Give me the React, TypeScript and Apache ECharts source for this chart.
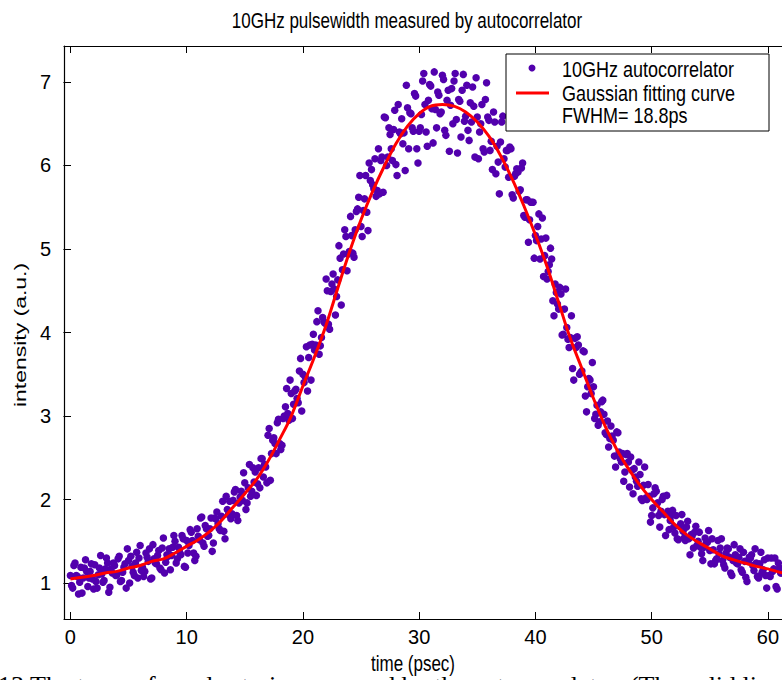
import React, { useEffect, useRef } from "react";
import * as echarts from "echarts";

const TITLE = "10GHz pulsewidth measured by autocorrelator";
const X_NAME = "time (psec)";
const Y_NAME = "intensity (a.u.)";
const LEGEND_LABELS = ["10GHz autocorrelator", "Gaussian fitting curve", "FWHM= 18.8ps"];
const CAPTION = "13 The trace of a pulse train measured by the autocorrelator. (The solid line is the Gaussian fit)";
const X_TICKS = [0, 10, 20, 30, 40, 50, 60];
const Y_TICKS = [1, 2, 3, 4, 5, 6, 7];

// measured samples (two interleaved sweeps), uniformly spaced in time (psec)
const SWEEP_A_START = 0;
const SWEEP_B_START = 0.1;
const SAMPLE_STEP = 0.2;
const SWEEP_A = [
  1.09, 0.94, 1.24, 1.08, 1.01, 0.88, 1.18, 1.14, 1.06, 1.23,
  0.93, 1.02, 1.1, 1.33, 1.01, 1.17, 1.24, 0.95, 1.12, 1.21,
  1.1, 1.32, 1.03, 1.19, 0.94, 1.27, 1.32, 1.13, 1.24, 1.06,
  1.45, 1.19, 1.14, 1.31, 1.41, 1.06, 1.29, 1.23, 1.39, 1.16,
  1.54, 1.25, 1.32, 1.16, 1.43, 1.5, 1.29, 1.37, 1.57, 1.2,
  1.51, 1.45, 1.61, 1.36, 1.32, 1.56, 1.78, 1.48, 1.69, 1.56,
  1.65, 1.38, 1.78, 1.85, 1.65, 1.8, 1.62, 2.04, 1.82, 1.77,
  1.99, 2.12, 1.75, 2.03, 1.99, 2.2, 1.96, 2.42, 2.1, 2.21,
  2.05, 2.38, 2.49, 2.27, 2.39, 2.77, 2.23, 2.71, 2.67, 2.92,
  2.67, 2.65, 3.0, 3.33, 2.95, 3.27, 3.14, 3.32, 3.16, 3.69,
  3.5, 3.47, 3.3, 3.85, 3.86, 3.79, 4.13, 3.74, 3.94, 4.13,
  4.64, 4.1, 4.49, 4.7, 4.21, 4.63, 4.89, 4.75, 5.23, 4.74,
  4.97, 5.16, 4.9, 5.45, 5.62, 5.27, 5.46, 5.88, 5.22, 5.82,
  5.77, 6.08, 5.7, 5.66, 6.1, 6.58, 6.0, 6.45, 6.2, 6.43,
  6.01, 6.73, 6.38, 6.26, 5.94, 6.69, 6.63, 6.45, 6.86, 6.2,
  6.41, 6.61, 7.1, 6.4, 6.78, 6.95, 6.27, 6.67, 6.88, 6.62,
  7.08, 6.42, 6.78, 6.17, 6.92, 7.01, 6.55, 6.79, 6.34, 7.09,
  6.59, 6.42, 6.75, 6.94, 6.1, 6.58, 6.4, 6.73, 6.16, 6.99,
  6.54, 6.29, 6.64, 5.9, 6.04, 6.28, 6.59, 5.98, 6.18, 6.22,
  5.65, 5.87, 5.96, 5.69, 5.97, 5.4, 5.59, 5.08, 5.56, 5.56,
  5.16, 5.27, 4.88, 5.37, 4.92, 4.64, 4.81, 4.88, 4.2, 4.48,
  4.28, 4.46, 3.98, 4.52, 3.92, 3.94, 3.57, 3.93, 3.95, 3.5,
  3.54, 3.77, 3.05, 3.45, 3.27, 3.35, 3.02, 2.89, 3.05, 3.19,
  2.8, 2.94, 2.73, 2.76, 2.52, 2.81, 2.57, 2.45, 2.22, 2.54,
  2.45, 2.51, 2.07, 2.27, 2.16, 2.3, 1.99, 2.39, 2.0, 2.04,
  1.81, 2.07, 2.1, 1.81, 1.86, 2.04, 1.57, 1.86, 1.75, 1.87,
  1.6, 1.53, 1.68, 1.82, 1.54, 1.67, 1.53, 1.58, 1.42, 1.68,
  1.5, 1.43, 1.27, 1.54, 1.49, 1.39, 1.53, 1.23, 1.29, 1.35,
  1.53, 1.22, 1.36, 1.41, 1.12, 1.27, 1.34, 1.23, 1.41, 1.13,
  1.26, 1.02, 1.31, 1.34, 1.15, 1.24, 1.06, 1.37, 1.16, 1.09,
  1.3, 1.08, 1.14, 1.3, 0.93, 1.18, 1.12, 1.24, 1.02, 0.96,
  1.14,
];
const SWEEP_B = [
  0.97, 1.21, 1.09, 0.87, 1.19, 1.06, 1.28, 0.96, 1.14, 1.05,
  1.22, 0.94, 1.18, 1.11, 1.03, 1.3, 0.89, 1.17, 1.24, 1.09,
  1.29, 1.02, 1.13, 1.23, 1.41, 1.0, 1.2, 1.09, 1.37, 1.3,
  1.15, 1.08, 1.36, 1.26, 1.05, 1.46, 1.24, 1.33, 1.18, 1.42,
  1.12, 1.34, 1.41, 1.33, 1.57, 1.24, 1.43, 1.34, 1.53, 1.19,
  1.36, 1.64, 1.51, 1.27, 1.65, 1.52, 1.79, 1.44, 1.65, 1.57,
  1.78, 1.48, 1.77, 1.71, 1.63, 1.98, 1.53, 1.88, 1.98, 1.83,
  2.09, 1.81, 1.96, 2.1, 2.32, 1.88, 2.14, 2.04, 2.38, 2.33,
  2.19, 2.14, 2.49, 2.42, 2.2, 2.85, 2.55, 2.74, 2.55, 2.96,
  2.6, 2.97, 3.11, 3.03, 3.43, 2.97, 3.3, 3.21, 3.54, 3.06,
  3.4, 3.83, 3.7, 3.43, 3.98, 3.85, 4.26, 3.84, 4.18, 4.11,
  4.5, 4.04, 4.58, 4.52, 4.43, 5.04, 4.33, 4.94, 5.15, 4.94,
  5.39, 4.95, 5.23, 5.48, 5.88, 5.15, 5.6, 5.44, 6.03, 5.95,
  5.72, 5.63, 6.2, 6.06, 5.68, 6.57, 6.1, 6.37, 6.06, 6.66,
  5.88, 6.4, 6.56, 6.39, 6.96, 6.2, 6.62, 6.41, 6.83, 6.03,
  6.45, 7.01, 6.73, 6.23, 6.97, 6.68, 7.12, 6.45, 6.84, 6.64,
  7.03, 6.36, 6.9, 6.72, 6.5, 7.1, 6.15, 6.77, 6.9, 6.53,
  6.96, 6.3, 6.52, 6.71, 7.05, 6.08, 6.5, 6.2, 6.79, 6.58,
  6.18, 5.95, 6.52, 6.23, 5.66, 6.52, 6.08, 6.18, 5.86, 6.2,
  5.61, 5.9, 5.92, 5.71, 6.03, 5.38, 5.59, 5.35, 5.56, 4.89,
  5.1, 5.42, 5.12, 4.67, 5.13, 4.73, 5.01, 4.38, 4.58, 4.34,
  4.54, 3.97, 4.28, 4.06, 3.82, 4.2, 3.43, 3.82, 3.85, 3.52,
  3.78, 3.24, 3.35, 3.43, 3.64, 2.97, 3.13, 2.93, 3.17, 3.02,
  2.78, 2.63, 2.88, 2.71, 2.39, 2.8, 2.49, 2.55, 2.33, 2.55,
  2.15, 2.35, 2.37, 2.22, 2.45, 2.01, 2.17, 2.02, 2.18, 1.73,
  1.9, 2.14, 1.96, 1.67, 2.0, 1.82, 2.05, 1.64, 1.81, 1.67,
  1.81, 1.52, 1.71, 1.62, 1.51, 1.74, 1.34, 1.57, 1.61, 1.45,
  1.61, 1.35, 1.43, 1.49, 1.63, 1.23, 1.4, 1.27, 1.51, 1.42,
  1.27, 1.18, 1.42, 1.31, 1.09, 1.46, 1.24, 1.31, 1.16, 1.37,
  1.07, 1.26, 1.3, 1.21, 1.41, 1.08, 1.23, 1.13, 1.28, 0.94,
  1.09, 1.3, 1.17, 0.96, 1.24, 1.12, 1.32, 1.01, 1.17, 1.08,
];

// Gaussian fitting curve
const FIT_TIME = [
  0, 1, 2, 3, 4, 5, 6, 7, 8, 9, 10, 11, 12, 13, 14, 15, 16, 17, 18, 19, 20,
  21, 22, 23, 24, 25, 26, 27, 28, 29, 30, 31, 32, 33, 34, 35, 36, 37, 38, 39, 40,
  41, 42, 43, 44, 45, 46, 47, 48, 49, 50, 51, 52, 53, 54, 55, 56, 57, 58, 59, 60,
  61, 62,
];
const FIT_VALUES = [
  1.05, 1.07, 1.09, 1.12, 1.14, 1.18, 1.21, 1.26, 1.29, 1.36, 1.44,
  1.52, 1.62, 1.75, 1.91, 2.07, 2.24, 2.46, 2.72, 3.0, 3.36,
  3.71, 4.09, 4.53, 4.96, 5.35, 5.69, 5.99, 6.26, 6.47, 6.62,
  6.71, 6.73, 6.71, 6.64, 6.52, 6.35, 6.12, 5.84, 5.52, 5.17,
  4.79, 4.36, 3.93, 3.57, 3.21, 2.88, 2.6, 2.37, 2.17, 2.0,
  1.85, 1.7, 1.58, 1.49, 1.41, 1.33, 1.28, 1.24, 1.2, 1.17,
  1.13, 1.11,
];

const FONT = '"Liberation Sans", Arial, Helvetica, sans-serif';
const DOT = "#5200ad";

export default function App() {
  const ref = useRef<HTMLDivElement>(null);
  useEffect(() => {
    if (!ref.current) return;
    const chart = echarts.init(ref.current, undefined, { renderer: "svg" });
    const scatterData = [
      ...SWEEP_A.map((v, i) => [SWEEP_A_START + i * SAMPLE_STEP, v]),
      ...SWEEP_B.map((v, i) => [SWEEP_B_START + i * SAMPLE_STEP, v]),
    ];
    const fitData = FIT_TIME.map((t, i) => [t, FIT_VALUES[i]]);
    const xMin = -0.55;
    const xMax = 61.2;
    const yMin = 0.57;
    const yMax = 7.43;
    const tickStyle = { show: true, inside: true, length: 7, lineStyle: { color: "#000", width: 1 } };
    const lineStyle = { show: true, onZero: false, lineStyle: { color: "#000", width: 1.2 } };
    chart.setOption({
      animation: false,
      backgroundColor: "#fff",
      grid: { left: 64, top: 46, right: 0, bottom: 61, containLabel: false },
      xAxis: [
        {
          type: "value", position: "bottom", min: xMin, max: xMax,
          axisLine: lineStyle,
          axisTick: { ...tickStyle, customValues: X_TICKS },
          axisLabel: { show: true, customValues: X_TICKS, color: "#000", fontFamily: FONT, fontSize: 20, margin: 8 },
          splitLine: { show: false },
        },
        {
          type: "value", position: "top", min: xMin, max: xMax,
          axisLine: lineStyle,
          axisTick: { ...tickStyle, customValues: X_TICKS },
          axisLabel: { show: false },
          splitLine: { show: false },
        },
      ],
      yAxis: [
        {
          type: "value", position: "left", min: yMin, max: yMax,
          axisLine: lineStyle,
          axisTick: { ...tickStyle, customValues: Y_TICKS },
          axisLabel: { show: true, customValues: Y_TICKS, color: "#000", fontFamily: FONT, fontSize: 20, margin: 13 },
          splitLine: { show: false },
        },
        {
          type: "value", position: "right", min: yMin, max: yMax,
          axisLine: { show: false },
          axisTick: { ...tickStyle, customValues: Y_TICKS },
          axisLabel: { show: false },
          splitLine: { show: false },
        },
      ],
      series: [
        {
          type: "scatter", name: LEGEND_LABELS[0], xAxisIndex: 0, yAxisIndex: 0,
          data: scatterData, symbol: "circle", symbolSize: 7.5,
          itemStyle: { color: DOT, opacity: 1 }, z: 2,
        },
        {
          type: "line", name: LEGEND_LABELS[1], xAxisIndex: 0, yAxisIndex: 0,
          data: fitData, smooth: 0.4, showSymbol: false,
          lineStyle: { color: "#ff0000", width: 3 }, z: 3,
        },
      ],
      graphic: [
        { type: "text", x: 407, y: 20, scaleY: 1.3, style: { text: TITLE, fill: "#000", font: `17px ${FONT}`, align: "center", verticalAlign: "middle" } },
        { type: "text", x: 413, y: 663, scaleY: 1.3, style: { text: X_NAME, fill: "#000", font: `17px ${FONT}`, align: "center", verticalAlign: "middle" } },
        { type: "text", x: 20, y: 335, rotation: Math.PI / 2, scaleX: 1.35, style: { text: Y_NAME, fill: "#000", font: `17px ${FONT}`, align: "center", verticalAlign: "middle" } },
        { type: "rect", shape: { x: 506, y: 54, width: 263, height: 77 }, style: { fill: "#fff", stroke: "#000", lineWidth: 1 }, z: 10 },
        { type: "circle", shape: { cx: 532, cy: 68, r: 3.5 }, style: { fill: DOT }, z: 11 },
        { type: "line", shape: { x1: 516, y1: 93, x2: 549, y2: 93 }, style: { stroke: "#ff0000", lineWidth: 3 }, z: 11 },
        { type: "text", x: 562, y: 69, scaleY: 1.2, style: { text: LEGEND_LABELS[0], fill: "#000", font: `18px ${FONT}`, verticalAlign: "middle" }, z: 11 },
        { type: "text", x: 562, y: 93, scaleY: 1.2, style: { text: LEGEND_LABELS[1], fill: "#000", font: `18px ${FONT}`, verticalAlign: "middle" }, z: 11 },
        { type: "text", x: 562, y: 115, scaleY: 1.2, style: { text: LEGEND_LABELS[2], fill: "#000", font: `18px ${FONT}`, verticalAlign: "middle" }, z: 11 },
        { type: "text", x: -2, y: 672, style: { text: CAPTION, fill: "#000", font: `26px "Liberation Serif", "Times New Roman", serif`, verticalAlign: "top" } },
      ],
    });
    return () => chart.dispose();
  }, []);
  return <div ref={ref} style={{ position: "absolute", left: 0, top: 0, width: 782, height: 680 }} />;
}
